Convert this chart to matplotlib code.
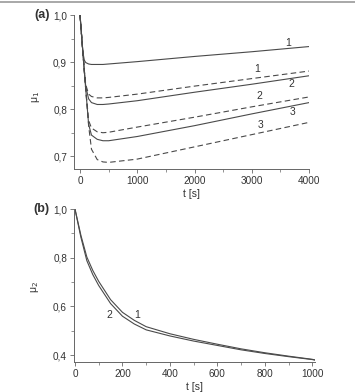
import matplotlib
matplotlib.use('Agg')
import matplotlib.pyplot as plt
from matplotlib.ticker import MultipleLocator, FuncFormatter
from matplotlib.lines import Line2D

plt.rcParams['font.family'] = ['Liberation Sans', 'DejaVu Sans']
plt.rcParams['font.size'] = 7

# panel (a): mu1 vs t
t_a = [0, 25, 50, 75, 100, 150, 200, 300, 400, 500, 1000, 2000, 3000, 4000]
s1 = [1.0, 0.960, 0.921, 0.904, 0.899, 0.896, 0.895, 0.895, 0.895, 0.896, 0.901, 0.912, 0.922, 0.933]
d1 = [1.0, 0.960, 0.920, 0.883, 0.852, 0.832, 0.827, 0.824, 0.824, 0.825, 0.832, 0.849, 0.865, 0.881]
s2 = [1.0, 0.960, 0.920, 0.882, 0.848, 0.822, 0.814, 0.810, 0.810, 0.811, 0.818, 0.836, 0.853, 0.871]
d2 = [1.0, 0.960, 0.920, 0.881, 0.843, 0.776, 0.760, 0.752, 0.750, 0.751, 0.762, 0.783, 0.805, 0.826]
s3 = [1.0, 0.960, 0.920, 0.880, 0.842, 0.768, 0.745, 0.736, 0.733, 0.733, 0.742, 0.765, 0.790, 0.814]
d3 = [1.0, 0.960, 0.920, 0.880, 0.841, 0.765, 0.715, 0.693, 0.688, 0.687, 0.694, 0.720, 0.746, 0.772]

# labels next to the curves: (t, mu, text)
labels_a = [(3640, 0.940, '1'), (3100, 0.886, '1'), (3690, 0.853, '2'),
            (3130, 0.827, '2'), (3710, 0.793, '3'), (3160, 0.766, '3')]

# panel (b): mu2 vs t
t_b = [0, 25, 50, 75, 100, 150, 200, 250, 300, 400, 500, 600, 700, 800, 900, 1000, 1010]
m2_1 = [1.0, 0.892, 0.803, 0.748, 0.703, 0.628, 0.576, 0.543, 0.517, 0.488, 0.465, 0.445, 0.426, 0.410, 0.396, 0.383, 0.381]
m2_2 = [1.0, 0.884, 0.788, 0.731, 0.686, 0.612, 0.560, 0.528, 0.504, 0.479, 0.458, 0.440, 0.422, 0.407, 0.394, 0.382, 0.380]
labels_b = [(262, 0.563, '1'), (147, 0.566, '2')]

lc = '#4a4a4a'
tc = '#333333'
comma = FuncFormatter(lambda v, p: ('%.1f' % v).replace('.', ','))

fig = plt.figure(figsize=(3.55, 3.92), dpi=100)
fig.add_artist(Line2D([0, 1], [0.996, 0.996], color='#999999', lw=1.2))

ax1 = fig.add_axes([0.2085, 0.5689, 0.6620, 0.3928])
ax2 = fig.add_axes([0.2085, 0.0765, 0.6780, 0.3903])

dash = (0, (5, 3))
ax1.plot(t_a, s1, color=lc, lw=0.8)
ax1.plot(t_a, d1, color=lc, lw=0.8, linestyle=dash)
ax1.plot(t_a, s2, color=lc, lw=0.8)
ax1.plot(t_a, d2, color=lc, lw=0.8, linestyle=dash)
ax1.plot(t_a, s3, color=lc, lw=0.8)
ax1.plot(t_a, d3, color=lc, lw=0.8, linestyle=dash)
for x, y, s in labels_a:
    ax1.text(x, y, s, color=tc, ha='center', va='center', fontsize=7.5)
ax1.set_xlim(-105, 4000)
ax1.set_ylim(0.673, 1.0)
ax1.xaxis.set_major_locator(MultipleLocator(1000))
ax1.xaxis.set_minor_locator(MultipleLocator(500))
ax1.yaxis.set_major_locator(MultipleLocator(0.1))
ax1.yaxis.set_minor_locator(MultipleLocator(0.05))
ax1.yaxis.set_major_formatter(comma)
ax1.set_xlabel('t [s]', fontsize=7.5, color=tc, labelpad=2)
ax1.set_ylabel('μ$_1$', fontsize=7.5, color=tc)
ax1.yaxis.set_label_coords(-0.136, 0.47)
ax1.text(-0.136, 1.0, '(a)', transform=ax1.transAxes, fontsize=9, fontweight='bold',
         color=tc, ha='center', va='center')

ax2.plot(t_b, m2_1, color=lc, lw=0.8)
ax2.plot(t_b, m2_2, color=lc, lw=0.8)
for x, y, s in labels_b:
    ax2.text(x, y, s, color=tc, ha='center', va='center', fontsize=7.5)
ax2.set_xlim(-4, 1010)
ax2.set_ylim(0.372, 1.0)
ax2.xaxis.set_major_locator(MultipleLocator(200))
ax2.xaxis.set_minor_locator(MultipleLocator(100))
ax2.yaxis.set_major_locator(MultipleLocator(0.2))
ax2.yaxis.set_minor_locator(MultipleLocator(0.1))
ax2.yaxis.set_major_formatter(comma)
ax2.set_xlabel('t [s]', fontsize=7.5, color=tc, labelpad=2)
ax2.set_ylabel('μ$_2$', fontsize=7.5, color=tc)
ax2.yaxis.set_label_coords(-0.136, 0.49)
ax2.text(-0.136, 1.0, '(b)', transform=ax2.transAxes, fontsize=9, fontweight='bold',
         color=tc, ha='center', va='center')

for ax in (ax1, ax2):
    ax.spines['top'].set_visible(False)
    ax.spines['right'].set_visible(False)
    for sp in ('left', 'bottom'):
        ax.spines[sp].set_color('#666666')
        ax.spines[sp].set_linewidth(0.7)
    ax.tick_params(which='major', length=3, width=0.6, color='#666666', labelcolor=tc,
                   labelsize=7.2, pad=2)
    ax.tick_params(which='minor', length=2, width=0.5, color='#666666')

fig.savefig('out.png', dpi=100)
